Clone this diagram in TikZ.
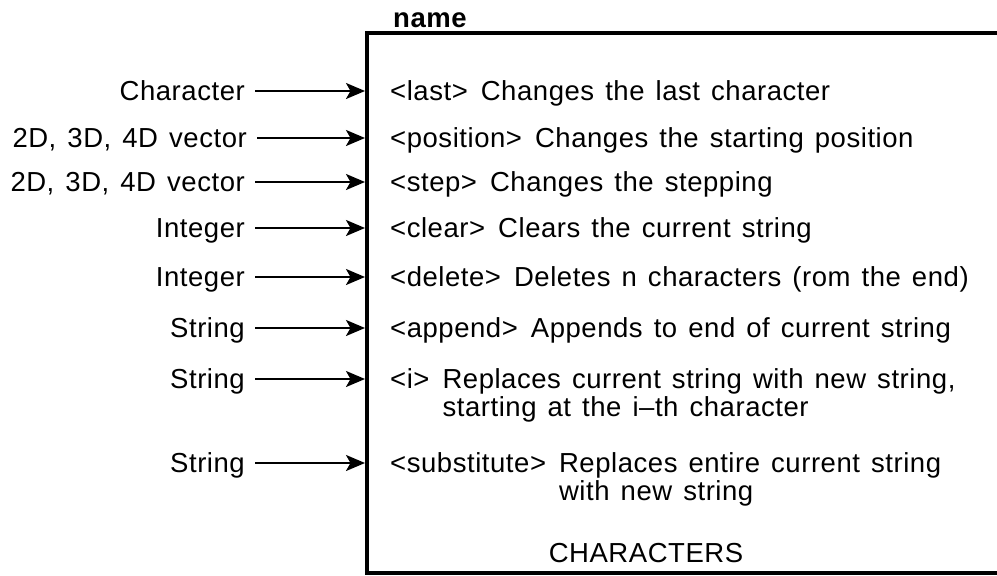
\documentclass[tikz,border=0pt]{standalone}
\usepackage{fontspec}
\setmainfont[LetterSpace=2,WordSpace=1.35]{Liberation Sans}
\usetikzlibrary{arrows.meta}
\newcommand{\opgap}{\hspace{13pt}}
\begin{document}
\begin{tikzpicture}[x=1pt,y=-1pt,
    every node/.style={font=\fontsize{27.5}{27}\selectfont},
    inlbl/.style={anchor=east, inner xsep=10pt, inner ysep=0pt, text height=19pt, text depth=0pt},
    opdesc/.style={anchor=base west, inner sep=0pt},
    feed/.style={-{Stealth[length=19pt,width=16pt,inset=4.5pt]}, line width=2pt, shorten >=2pt}]
        \useasboundingbox (0,0) rectangle (997,576);

        \coordinate (tl) at (367,33);
        \coordinate (bl) at (367,573);
        \draw[line width=3.5pt] (997,33) -- (tl) -- (bl) -- (997,573);
        \node[opdesc, font=\bfseries\fontsize{27.5}{27}\selectfont] (name) at (393,27) {name};

        % inputs
        \node[inlbl] (in1) at (255,91)  {Character};
        \node[inlbl] (in2) at (257,138) {2D, 3D, 4D vector};
        \node[inlbl] (in3) at (255,182) {2D, 3D, 4D vector};
        \node[inlbl] (in4) at (255,228) {Integer};
        \node[inlbl] (in5) at (255,277) {Integer};
        \node[inlbl] (in6) at (255,328) {String};
        \node[inlbl] (in7) at (255,379) {String};
        \node[inlbl] (in8) at (255,463) {String};

        \foreach \n in {1,...,8}{
          \draw[feed] (in\n.east) -- (in\n.east -| tl);
        }

        % operations
        \node[opdesc] (op1) at (390,100) {<last>\opgap Changes the last character};
        \node[opdesc] (op2) at (390,147) {<position>\opgap Changes the starting position};
        \node[opdesc] (op3) at (390,191) {<step>\opgap Changes the stepping};
        \node[opdesc] (op4) at (390,237) {<clear>\opgap Clears the current string};
        \node[opdesc] (op5) at (390,286) {<delete>\opgap Deletes n characters (rom the end)};
        \node[opdesc] (op6) at (390,337) {<append>\opgap Appends to end of current string};
        \node[opdesc] (op7) at (390,388) {\begin{tabular}[t]{@{}l@{\opgap}l@{}}<i> & Replaces current string with new string,\\ & starting at the i--th character\end{tabular}};
        \node[opdesc] (op8) at (390,472) {\begin{tabular}[t]{@{}l@{\opgap}l@{}}<substitute> & Replaces entire current string\\ & with new string\end{tabular}};

        \node[anchor=base] (kind) at (646,562) {CHARACTERS};
\end{tikzpicture}
\end{document}
